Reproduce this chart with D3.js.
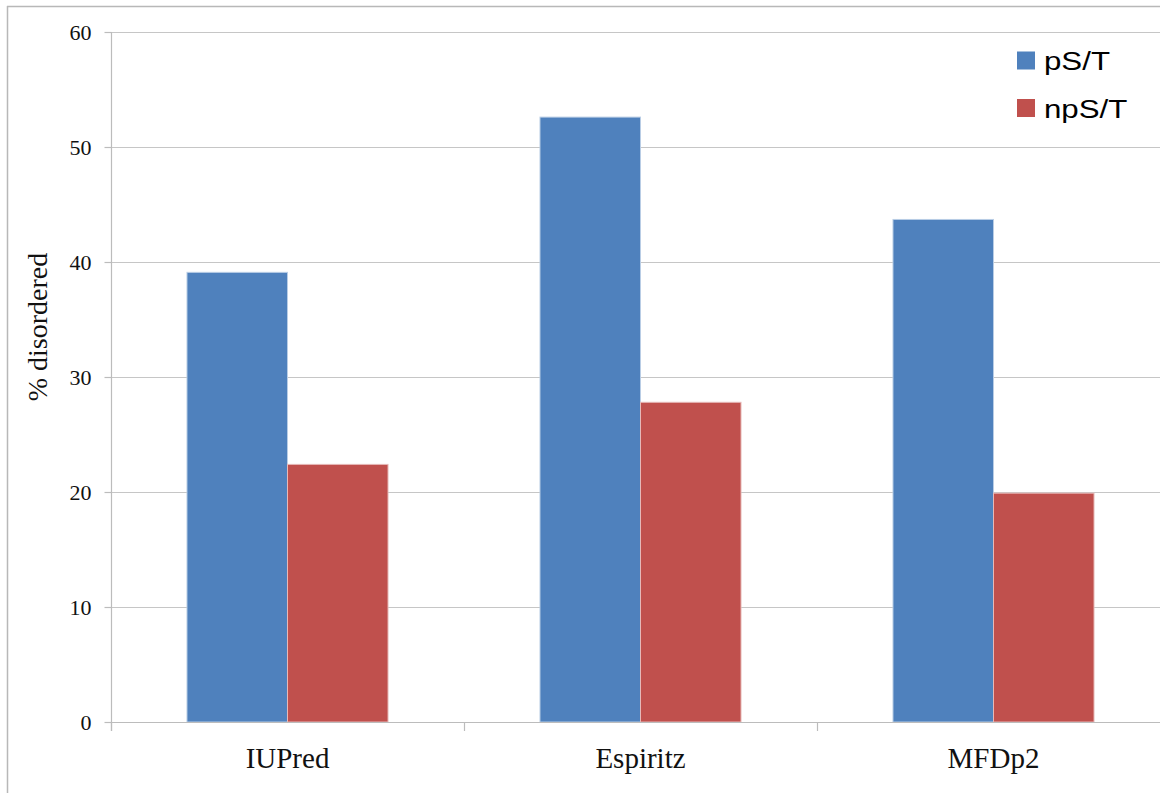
<!DOCTYPE html>
<html>
<head>
<meta charset="utf-8">
<script src="https://cdn.jsdelivr.net/npm/d3@7"></script>
<style>
  html, body { margin: 0; padding: 0; background: #fff; }
  svg { display: block; }
</style>
</head>
<body>
<svg id="chart" width="1160" height="793"></svg>
<script>
const categories = ["IUPred", "Espiritz", "MFDp2"];
const seriesNames = ["pS/T", "npS/T"];
const pST = [39.1, 52.6, 43.7];
const npST = [22.4, 27.8, 19.9];
const yTicks = [0, 10, 20, 30, 40, 50, 60];

(function () {
const colors = { "pS/T": "#4F81BD", "npS/T": "#C0504D" };
const edges = { "pS/T": "#B9CDE5", "npS/T": "#E6B9B8" };

const svg = d3.select("#chart");
const serif = "'Liberation Serif', 'Times New Roman', serif";
const sans = "'Liberation Sans', Arial, sans-serif";

// outer frame (top & left visible)
svg.append("line").attr("x1", 7).attr("x2", 1160).attr("y1", 6.5).attr("y2", 6.5)
  .attr("stroke", "#b8b8b8").attr("stroke-width", 1.5);
svg.append("line").attr("x1", 7.5).attr("x2", 7.5).attr("y1", 6).attr("y2", 793)
  .attr("stroke", "#b8b8b8").attr("stroke-width", 1.5);

const pLeft = 111, pRight = 1170, pTop = 32, pBottom = 722;

const y = d3.scaleLinear().domain([0, 60]).range([pBottom, pTop]);
const x = d3.scaleBand().domain(categories).range([pLeft, pRight]).paddingInner(0).paddingOuter(0);
const x1 = d3.scaleBand().domain(seriesNames).range([0, x.bandwidth()]).paddingInner(0).paddingOuter(0.756);

// gridlines
svg.append("g").selectAll("line").data(yTicks.filter(d => d > 0)).join("line")
  .attr("x1", pLeft).attr("x2", pRight)
  .attr("y1", d => Math.round(y(d)) + 0.5).attr("y2", d => Math.round(y(d)) + 0.5)
  .attr("stroke", "#c6c6c6").attr("stroke-width", 1.2);

// y axis
const yAxis = d3.axisLeft(y).tickValues(yTicks).tickSizeInner(7).tickSizeOuter(0).tickPadding(13);
const gy = svg.append("g").attr("transform", `translate(${pLeft + 0.5},0)`).call(yAxis);
gy.select(".domain").remove();
gy.selectAll(".tick line").attr("stroke", "#bcbcbc").attr("stroke-width", 1.2);
gy.selectAll(".tick text").attr("font-family", serif).attr("font-size", 22).attr("fill", "#111");
svg.append("line").attr("x1", pLeft + 0.5).attr("x2", pLeft + 0.5).attr("y1", pTop).attr("y2", pBottom + 9)
  .attr("stroke", "#bcbcbc").attr("stroke-width", 1.2);

// bars
const groups = svg.append("g").selectAll("g").data(categories).join("g")
  .attr("transform", d => `translate(${x(d)},0)`);
groups.selectAll("rect")
  .data((d, i) => [{ s: "pS/T", v: pST[i] }, { s: "npS/T", v: npST[i] }])
  .join("rect")
  .attr("x", d => x1(d.s))
  .attr("width", x1.bandwidth())
  .attr("y", d => y(d.v))
  .attr("height", d => y(0) - y(d.v))
  .attr("fill", d => colors[d.s])
  .attr("stroke", d => edges[d.s])
  .attr("stroke-width", 1);

// x axis
svg.append("line").attr("x1", pLeft).attr("x2", pRight).attr("y1", pBottom + 0.5).attr("y2", pBottom + 0.5)
  .attr("stroke", "#bcbcbc").attr("stroke-width", 1.2);
const boundaries = categories.map(c => x(c)).concat([x(categories[categories.length - 1]) + x.bandwidth()]);
svg.append("g").selectAll("line").data(boundaries).join("line")
  .attr("x1", d => Math.round(d) + 0.5).attr("x2", d => Math.round(d) + 0.5)
  .attr("y1", pBottom).attr("y2", pBottom + 9)
  .attr("stroke", "#bcbcbc").attr("stroke-width", 1.2);
const xAxis = d3.axisBottom(x).tickSize(0).tickPadding(0);
const gx = svg.append("g").attr("transform", `translate(0,${pBottom})`).call(xAxis);
gx.select(".domain").remove();
gx.selectAll(".tick text")
  .attr("dy", null).attr("y", 46)
  .attr("font-family", serif).attr("font-size", 29).attr("fill", "#111");

// y title
svg.append("text")
  .attr("transform", `translate(47,327) rotate(-90)`)
  .attr("text-anchor", "middle")
  .attr("font-family", serif).attr("font-size", 28).attr("fill", "#111")
  .text("% disordered");

// legend
const lg = svg.append("g").selectAll("g").data(seriesNames).join("g")
  .attr("transform", (d, i) => `translate(1017,${51.5 + i * 47.5})`);
lg.append("rect").attr("width", 18).attr("height", 18).attr("fill", d => colors[d]);
lg.append("text")
  .attr("transform", "translate(27,18.5) scale(1.25,1)")
  .attr("font-family", sans).attr("font-size", 25).attr("fill", "#000")
  .text(d => d);
})();
</script>
</body>
</html>
